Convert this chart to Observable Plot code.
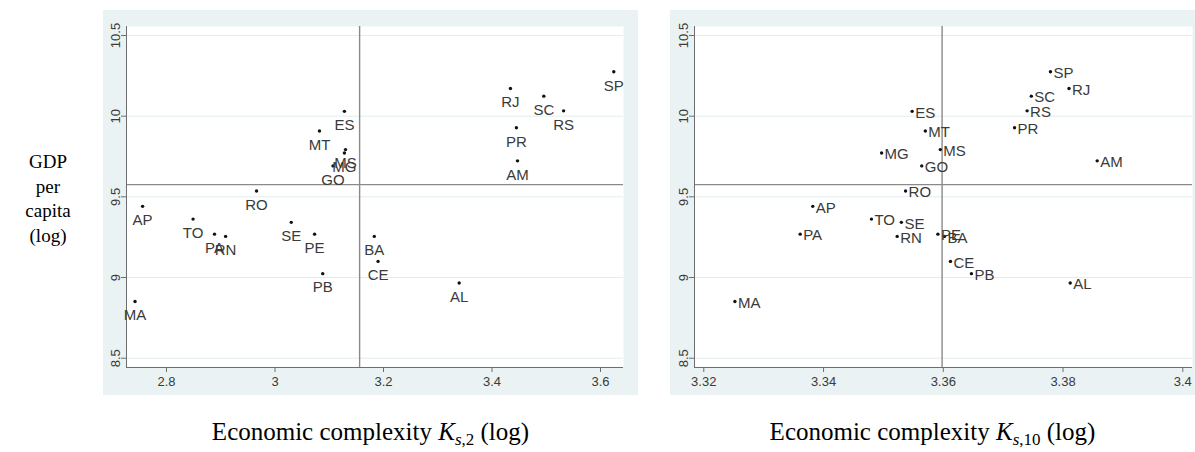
<!DOCTYPE html>
<html>
<head>
<meta charset="utf-8">
<script src="https://cdn.jsdelivr.net/npm/d3@7"></script>
<script src="https://cdn.jsdelivr.net/npm/@observablehq/plot@0.6"></script>
<style>
  html, body { margin: 0; padding: 0; background: #fff; }
  #fig { position: relative; width: 1195px; height: 452px; background: #fff; overflow: hidden; }
  .panel { position: absolute; top: 10px; }
  .ylab { position: absolute; left: 0; width: 96px; top: 150px; text-align: center;
          font-family: "Liberation Serif", "Times New Roman", serif; font-size: 19px; line-height: 24.5px; color: #000; }
  .xlab { position: absolute; top: 419px; text-align: center; white-space: nowrap;
          font-family: "Liberation Serif", "Times New Roman", serif; font-size: 25px; line-height: 25px; color: #000; }
  .xlab sub { font-size: 68%; line-height: 0; vertical-align: -0.3em; }
</style>
</head>
<body>
<div id="fig">
  <div class="ylab">GDP<br>per<br>capita<br>(log)</div>
  <div id="p1" class="panel" style="left:103px"></div>
  <div id="p2" class="panel" style="left:670px"></div>
  <div class="xlab" style="left:103px;width:535px">Economic complexity <i>K</i><sub><i>s</i>,2</sub> (log)</div>
  <div class="xlab" style="left:670px;width:525px">Economic complexity <i>K</i><sub><i>s</i>,10</sub> (log)</div>
</div>
<script>
// ---- data ----
const states = ["AP","TO","PA","RN","RO","SE","PE","PB","MA","BA","CE","AL","MT","ES","MS","MG","GO","RJ","SC","RS","SP","PR","AM"];
const gdpLog = [9.441, 9.362, 9.269, 9.255, 9.536, 9.342, 9.269, 9.024, 8.851, 9.255, 9.100, 8.966, 9.908, 10.030, 9.793, 9.772, 9.692, 10.172, 10.124, 10.033, 10.275, 9.928, 9.723];
const ks2 = [2.756, 2.849, 2.8885, 2.909, 2.966, 3.030, 3.073, 3.088, 2.742, 3.183, 3.190, 3.3395, 3.082, 3.128, 3.130, 3.128, 3.107, 3.434, 3.4955, 3.532, 3.6245, 3.445, 3.447];
const ks10 = [3.3382, 3.3480, 3.3361, 3.3523, 3.3537, 3.3530, 3.3591, 3.3647, 3.3252, 3.3602, 3.3612, 3.3812, 3.3570, 3.3548, 3.3595, 3.3497, 3.3564, 3.3810, 3.3747, 3.3740, 3.3779, 3.3719, 3.3857];
const yTicks = [8.5, 9, 9.5, 10, 10.5];
const xTicks2 = [2.8, 3, 3.2, 3.4, 3.6];
const xTicks10 = [3.32, 3.34, 3.36, 3.38, 3.4];
const meanGdp = 9.576;
const meanKs2 = 3.156;
const meanKs10 = 3.3598;
const yDomain = [8.4424, 10.5558];
const xDomain2 = [2.7263, 3.6424];
const xDomain10 = [3.31845, 3.40162];

const rows2 = states.map((s, i) => ({state: s, x: ks2[i], y: gdpLog[i]}));
const rows10 = states.map((s, i) => ({state: s, x: ks10[i], y: gdpLog[i]}));

const BG = "#eaf2f3", GRID = "#e3edf0", AX = "#6e6e6e", REF = "#8a8a8a", TXT = "#3a3a3a";
const FONT = "'Liberation Sans', Arial, Helvetica, sans-serif";

function panel({rows, xDomain, xTicks, meanX, width, marginLeft, marginRight, labelRight}) {
  return Plot.plot({
    width, height: 385,
    marginTop: 16, marginBottom: 28, marginLeft, marginRight,
    style: {background: BG, fontFamily: FONT, overflow: "visible"},
    x: {domain: xDomain, ticks: xTicks, label: null},
    y: {domain: yDomain, ticks: yTicks, label: null},
    marks: [
      Plot.frame({fill: "white", stroke: null}),
      Plot.gridY(yTicks, {stroke: GRID, strokeOpacity: 1, strokeWidth: 1}),
      Plot.ruleY([meanGdp], {stroke: REF, strokeWidth: 1.4}),
      Plot.ruleX([meanX], {stroke: REF, strokeWidth: 1.4}),
      Plot.axisX(xTicks, {label: null, tickSize: 5, tickPadding: 4, stroke: AX, fill: TXT, fontSize: 13, tickFormat: d => String(d)}),
      Plot.axisY(yTicks, {label: null, tickSize: 5, tickPadding: 2, tickRotate: -90, stroke: AX, fill: TXT, fontSize: 13, tickFormat: d => String(d)}),
      Plot.ruleX([xDomain[0]], {stroke: AX, strokeWidth: 1}),
      Plot.ruleY([yDomain[0]], {stroke: AX, strokeWidth: 1}),
      Plot.dot(rows, {x: "x", y: "y", r: 1.7, fill: "#111", stroke: null}),
      labelRight
        ? Plot.text(rows, {x: "x", y: "y", text: "state", textAnchor: "start", dx: 3, dy: 1.5, fontSize: 15, fill: TXT})
        : Plot.text(rows, {x: "x", y: "y", text: "state", textAnchor: "middle", dy: 14, fontSize: 15, fill: TXT})
    ]
  });
}

document.getElementById("p1").appendChild(panel({rows: rows2, xDomain: xDomain2, xTicks: xTicks2, meanX: meanKs2, width: 535, marginLeft: 23, marginRight: 15, labelRight: false}));
document.getElementById("p2").appendChild(panel({rows: rows10, xDomain: xDomain10, xTicks: xTicks10, meanX: meanKs10, width: 525, marginLeft: 24, marginRight: 3, labelRight: true}));
</script>
</body>
</html>
